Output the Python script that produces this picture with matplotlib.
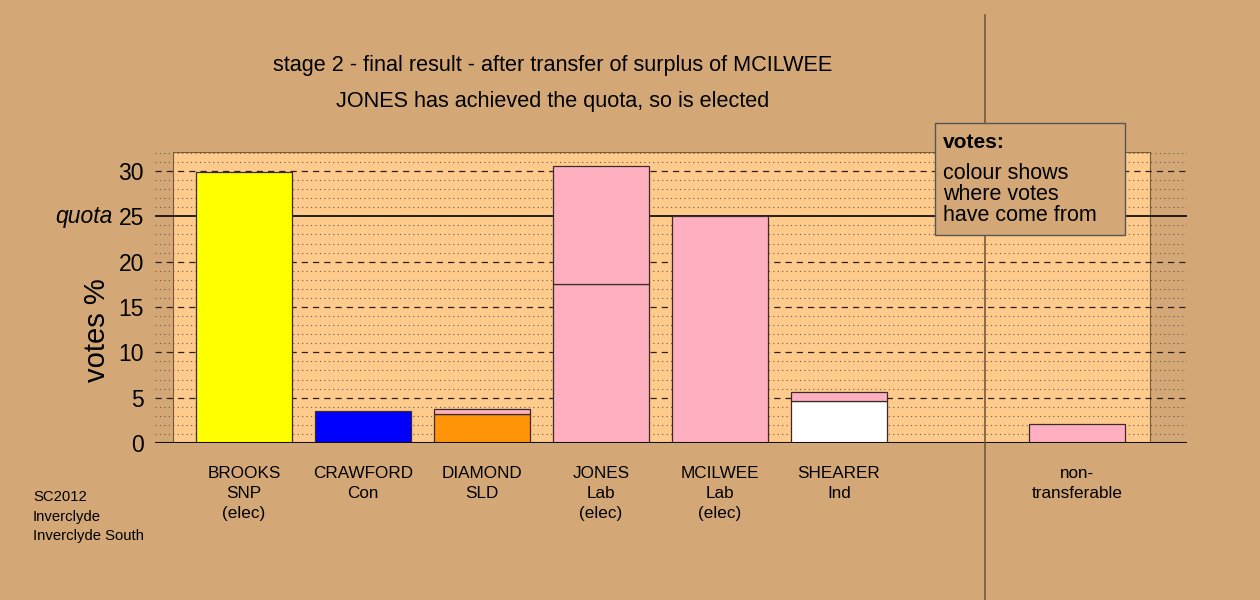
import matplotlib
matplotlib.use('Agg')
import matplotlib.pyplot as plt
from matplotlib.patches import Rectangle
from matplotlib.lines import Line2D
from matplotlib.transforms import blended_transform_factory

plt.rcParams['font.family'] = ['Liberation Sans', 'DejaVu Sans']

# data
names = ['BROOKS\nSNP\n(elec)', 'CRAWFORD\nCon', 'DIAMOND\nSLD', 'JONES\nLab\n(elec)',
         'MCILWEE\nLab\n(elec)', 'SHEARER\nInd', 'non-\ntransferable']
positions = [0, 1, 2, 3, 4, 5, 7]
own_votes = [29.85, 3.5, 3.25, 17.5, 25.0, 4.65, 2.05]
own_colours = ['#FFFF00', '#0000FF', '#FF9408', '#FFB0C0', '#FFB0C0', '#FFFFFF', '#FFB0C0']
transferred = [0, 0, 0.45, 13.1, 0, 1.0, 0]
transfer_colour = '#FFB0C0'
quota = 25
yticks = [0, 5, 10, 15, 20, 25, 30]

BG = '#D3A876'
PANEL = '#FECB8C'
W, H = 1260, 600

fig = plt.figure(figsize=(12.6, 6), dpi=100, facecolor=BG)
# axes spans the extent of the grid lines (pixel 155..1187 wide, 152..443 tall)
ax = fig.add_axes([155 / W, (H - 443) / H, (1187 - 155) / W, (443 - 152) / H])
ax.set_facecolor('none')
ax.set_xlim(-0.748, 7.924)
ax.set_ylim(0, 32.1)
for s in ax.spines.values():
    s.set_visible(False)

# light panel
ax.add_patch(Rectangle((-0.597, 0), 7.61 + 0.597, 32.1, facecolor=PANEL,
                       edgecolor='#7a5a3a', lw=0.8, zorder=0))

# grid lines
for v in range(1, 33):
    if v % 5:
        ax.axhline(v, color='#6b5a4a', lw=0.8, ls=(0, (1, 3)), zorder=1)
for v in [5, 10, 15, 20, 30]:
    ax.axhline(v, color='#2a2018', lw=0.9, ls=(0, (5, 4)), zorder=1)
ax.axhline(quota, color='#111111', lw=1.3, zorder=1)
ax.axhline(0, color='#111111', lw=1.5, zorder=4)

# bars
ax.bar(positions, own_votes, width=0.8, color=own_colours, edgecolor='#3a2a2a',
       lw=0.9, zorder=3)
ax.bar(positions, transferred, width=0.8, bottom=own_votes, color=transfer_colour,
       edgecolor=['#3a2a2a' if t > 0 else 'none' for t in transferred], lw=0.9, zorder=3)

# y ticks
ax.set_xticks([])
ax.set_yticks(yticks)
ax.set_yticklabels([str(t) for t in yticks], fontsize=16.5)
ax.tick_params(axis='y', length=0, pad=8)

trans = blended_transform_factory(ax.transAxes, ax.transData)
ax.text(-0.0407, quota, 'quota', ha='right', va='center', fontsize=16.5,
        style='italic', transform=trans)
ax.text(-0.0562, (443 - 330) / 291, 'votes %', rotation=90, ha='center', va='center',
        fontsize=21, transform=ax.transAxes)

# candidate labels
xtrans = blended_transform_factory(ax.transData, ax.transAxes)
for p, n in zip(positions, names):
    ax.text(p, -0.078, n, ha='center', va='top', fontsize=12.3, linespacing=1.45,
            transform=xtrans)

# separator line for non-transferable
fig.add_artist(Line2D([985 / W, 985 / W], [0, (H - 15) / H], color='#6b5035',
                      lw=1.1, zorder=5))

# legend box
fig.add_artist(Rectangle((935 / W, (H - 235) / H), 190 / W, 112 / H,
                         facecolor=BG, edgecolor='#555555', lw=1.0, zorder=6,
                         transform=fig.transFigure))
fig.text(943 / W, (H - 142) / H, 'votes:', fontsize=15, weight='bold',
         va='center', ha='left', zorder=7)
fig.text(943 / W, (H - 163) / H, 'colour shows\nwhere votes\nhave come from',
         fontsize=15.5, va='top', ha='left', linespacing=0.99, zorder=7)

# titles
fig.text(553 / W, (H - 65) / H, 'stage 2 - final result - after transfer of surplus of MCILWEE',
         ha='center', va='center', fontsize=15.6)
fig.text(553 / W, (H - 102) / H, 'JONES has achieved the quota, so is elected',
         ha='center', va='center', fontsize=15.6)

fig.text(33 / W, (H - 490) / H, 'SC2012\nInverclyde\nInverclyde South',
         ha='left', va='top', fontsize=10.7, linespacing=1.52)

fig.savefig('out.png', dpi=100, facecolor=BG)
